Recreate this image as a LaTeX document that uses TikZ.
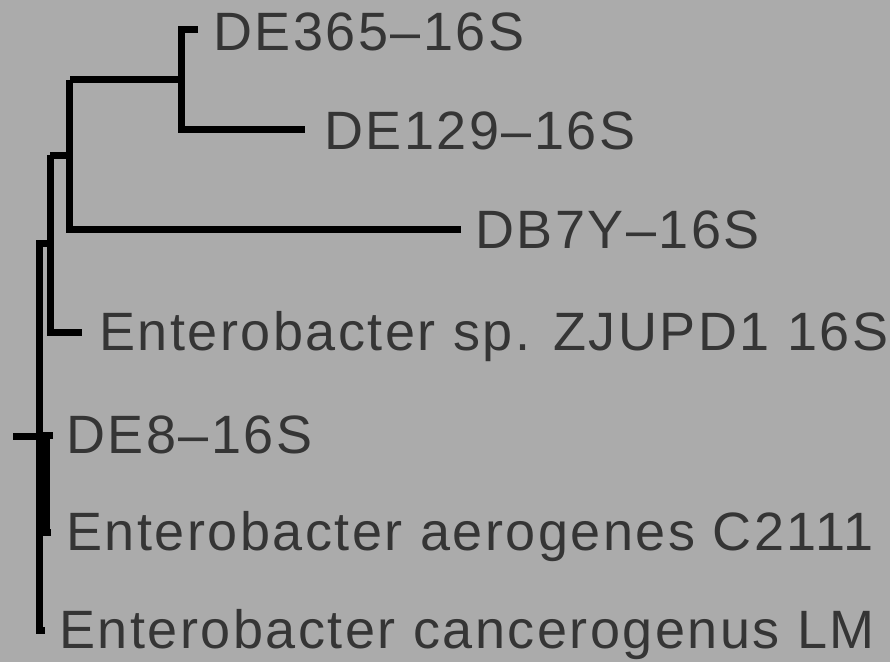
\documentclass[tikz,border=0pt]{standalone}
\usepackage{fontspec}
\newfontfamily\labfont[LetterSpace=4.6]{Liberation Sans}
\definecolor{bg}{HTML}{ABABAB}
\definecolor{txt}{HTML}{353535}
\tikzset{
  branch/.style={line width=7pt, black, line join=miter, line cap=butt},
  lab/.style={anchor=base west, inner sep=0pt, text=txt, font=\labfont\fontsize{54}{60}\selectfont}
}
\begin{document}
\begin{tikzpicture}[x=1pt,y=-1pt]
\fill[bg] (0,0) rectangle (890,662);
\useasboundingbox (0,0) rectangle (890,662);
% tips
\coordinate (tDE365) at (198,29.5);
\coordinate (tDE129) at (305,129);
\coordinate (tDB7Y) at (461,229.5);
\coordinate (tZJU) at (82,332);
\coordinate (tDE8) at (53,435);
\coordinate (tAER) at (51,532);
\coordinate (tCAN) at (45,630);
% internal nodes
\coordinate (n1) at (181,79.5);
\coordinate (n2) at (69.5,155);
\coordinate (n3) at (50,243);
\coordinate (n4) at (46,483);
\coordinate (root) at (39,436);
\coordinate (rootend) at (13,436);
% brackets
\draw[branch] (tDE365) -| (n1) |- (tDE129);
\draw[branch] ([xshift=3pt]n1) -- (n1 -| n2);
\draw[branch] (n1 -| n2) -- (n2) |- (tDB7Y);
\draw[branch] ([xshift=3pt]n2) -- (n2 -| n3);
\draw[branch] (n2 -| n3) -- (n3) |- (tZJU);
\draw[branch] (tDE8) -| (n4) |- (tAER);
\draw[branch] (n3) -- (n3 -| root) -- (root) |- (tCAN);
\draw[branch] (n4) -- (n4 -| root);
\draw[branch] (rootend) -- (root);
% labels
\node[lab] (lDE365) at (213,50) {DE365–16S};
\node[lab] (lDE129) at (324,149) {DE129–16S};
\node[lab] (lDB7Y) at (475,248) {DB7Y–16S};
\node[lab] (lZJU) at (99,350.5) {Enterobacter sp. ZJUPD1 16S};
\node[lab] (lDE8) at (66,453) {DE8–16S};
\node[lab] (lAER) at (66,550.5) {Enterobacter aerogenes C2111};
\node[lab] (lCAN) at (59,648.5) {Enterobacter cancerogenus LM};
\end{tikzpicture}
\end{document}
